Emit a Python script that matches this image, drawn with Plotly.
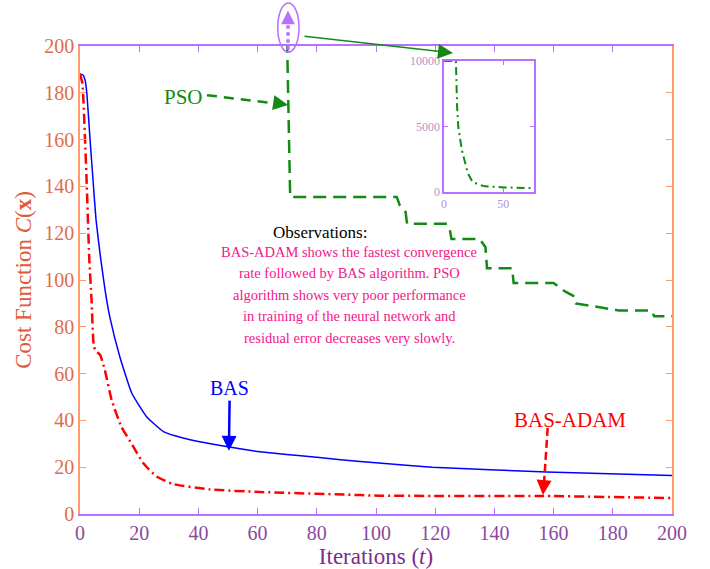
import plotly.graph_objects as go

# ---------------- data ----------------
bas_x = [0, 1, 1.7, 2.3, 3.4, 4.5, 5.4, 7, 8.5, 10.1, 13.5, 17.5, 22.5, 28.2, 34.8, 49.5, 60.8, 80, 94.6, 101, 119, 157.7, 200]
bas_y = [188, 187.6, 185.5, 180, 160, 141, 126, 109, 95.5, 84, 67, 51.6, 41.6, 35.2, 32.5, 28.8, 26.6, 24.2, 22.4, 21.8, 20, 18, 16.4]

adam_x = [0, 0.8, 1.7, 2.3, 3.1, 3.9, 4.7, 5.5, 6.8, 8.4, 10.7, 14, 18, 21.4, 25.9, 31.5, 43.9, 60.8, 94.6, 101, 156.5, 200]
adam_y = [188, 184, 160, 140, 110, 91.5, 71.5, 69.5, 68, 61.5, 48.7, 37.3, 28.8, 21.7, 16, 12.8, 10.5, 9.4, 8.1, 7.8, 7.7, 6.8]

pso_x = [0, 69, 70, 71, 107, 108, 110, 110.5, 124, 125, 125.5, 135, 137, 137.5, 146, 146.5, 160, 164, 167, 167.5, 182, 193, 194, 200]
pso_y = [10000, 10000, 200, 135.5, 135.5, 132, 129, 124, 124, 121, 117.5, 117.5, 114, 105, 105, 98.7, 98.7, 95, 93, 90, 87, 87, 84.5, 84.5]

inset_x = [0, 10, 11, 12, 15, 20, 24, 33, 50, 76]
inset_y = [10000, 10000, 6500, 5000, 3200, 1450, 760, 460, 350, 290]

x_ticks = list(range(0, 201, 20))
y_ticks = list(range(0, 201, 20))
inset_xticks = [0, 50]
inset_yticks = [0, 5000, 10000]
inset_yticktext = ["0", "5000", "10000"]

obs_title = "Observations:"
obs_lines = [
    "BAS-ADAM shows the fastest convergence",
    "rate followed by BAS algorithm. PSO",
    "algorithm shows very poor performance",
    "in training of the neural network and",
    "residual error decreases very slowly.",
]

# ---------------- style ----------------
FONT = "Liberation Serif"
PURPLE_LINE = "#b870ff"
PURPLE_TXT = "#8b4a9f"
PURPLE_TITLE = "#7a2e8c"
ORANGE_LINE = "#ff9a6a"
ORANGE_TXT = "#e06c4f"
ORANGE_TITLE = "#e05a3a"
GREEN = "#138a13"
BLUE = "#0000ff"
RED = "#ff0000"
PINK = "#f4168c"
INSET_TXT = "#b892cc"

fig = go.Figure()

fig.add_trace(go.Scatter(x=pso_x, y=pso_y, mode="lines",
                         line=dict(color=GREEN, width=2.5, dash="13px,7px")))
fig.add_trace(go.Scatter(x=bas_x, y=bas_y, mode="lines",
                         line=dict(color=BLUE, width=1.5, shape="spline", smoothing=0.4)))
fig.add_trace(go.Scatter(x=adam_x, y=adam_y, mode="lines",
                         line=dict(color=RED, width=2.5, dash="10px,4px,2px,4px",
                                   shape="spline", smoothing=0.5)))

# inset
fig.add_trace(go.Scatter(x=inset_x, y=inset_y, mode="lines", xaxis="x2", yaxis="y2",
                         line=dict(color=GREEN, width=2, dash="8px,4px,2px,4px")))

fig.update_layout(
    width=710, height=569,
    margin=dict(l=80, r=38, t=46, b=55, autoexpand=False),
    plot_bgcolor="white", paper_bgcolor="white",
    showlegend=False,
    font=dict(family=FONT),
    xaxis=dict(range=[0, 200], tickvals=x_ticks, ticks="inside", ticklen=6,
               tickcolor=PURPLE_LINE, linecolor=PURPLE_LINE, linewidth=1.5,
               mirror="ticks", showgrid=False, zeroline=False, automargin=False,
               tickfont=dict(size=20, color=PURPLE_TXT, family=FONT),
               title=dict(text="Iterations (<i>t</i>)", standoff=4,
                          font=dict(size=23, color=PURPLE_TITLE, family=FONT))),
    yaxis=dict(range=[0, 200], tickvals=y_ticks, ticks="inside", ticklen=6,
               tickcolor=ORANGE_LINE, linecolor=ORANGE_LINE, linewidth=1.5,
               mirror="ticks", showgrid=False, zeroline=False, automargin=False,
               tickfont=dict(size=20, color=ORANGE_TXT, family=FONT),
               title=dict(text="Cost Function <i>C</i>(<b>x</b>)", standoff=6,
                          font=dict(size=23, color=ORANGE_TITLE, family=FONT))),
    xaxis2=dict(domain=[0.615, 0.767], anchor="y2", range=[0, 76], tickvals=inset_xticks,
                ticks="inside", ticklen=4, tickcolor=PURPLE_LINE, linecolor=PURPLE_LINE,
                linewidth=1.5, mirror="ticks", showgrid=False, zeroline=False,
                tickfont=dict(size=12, color=INSET_TXT, family=FONT)),
    yaxis2=dict(domain=[0.688, 0.968], anchor="x2", range=[0, 10000], tickvals=inset_yticks,
                ticktext=inset_yticktext,
                ticks="inside", ticklen=4, tickcolor=PURPLE_LINE, linecolor=PURPLE_LINE,
                linewidth=1.5, mirror="ticks", showgrid=False, zeroline=False,
                tickfont=dict(size=12, color=INSET_TXT, family=FONT)),
)

shapes = []
# ellipse at top marking PSO going off the chart
shapes.append(dict(type="circle", xref="paper", yref="paper",
                   x0=0.334, x1=0.370, y0=0.987, y1=1.092,
                   line=dict(color=PURPLE_LINE, width=1.5)))
shapes.append(dict(type="line", xref="paper", yref="paper",
                   x0=0.3514, x1=0.3514, y0=0.992, y1=1.055,
                   line=dict(color=PURPLE_LINE, width=3.5, dash="dot")))
# PSO dashed arrow shaft
shapes.append(dict(type="line", xref="x", yref="y", x0=42.9, y0=179, x1=67, y1=175.3,
                   line=dict(color=GREEN, width=2.5, dash="10px,7px")))
# BAS-ADAM dashed arrow shaft
shapes.append(dict(type="line", xref="x", yref="y", x0=158.0, y0=36.8, x1=156.7, y1=12,
                   line=dict(color=RED, width=2.5, dash="8px,4px")))
fig.update_layout(shapes=shapes)

ann = []
# arrowhead for ellipse dotted arrow
ann.append(dict(xref="paper", yref="paper", x=0.3514, y=1.076, ax=0, ay=12, text="",
                showarrow=True, arrowhead=2, arrowsize=1.1, arrowwidth=2.5, arrowcolor=PURPLE_LINE))
# green arrow from ellipse to inset
ann.append(dict(xref="paper", yref="paper", x=0.630, y=0.985, ax=-150, ay=-17, text="",
                showarrow=True, arrowhead=2, arrowsize=2, arrowwidth=1.5, arrowcolor=GREEN))
# PSO label + arrowhead
ann.append(dict(xref="x", yref="y", x=42.3, y=178.2, text="PSO", showarrow=False,
                xanchor="right", font=dict(size=21, color=GREEN, family=FONT)))
ann.append(dict(xref="x", yref="y", x=70.3, y=174.8, ax=-13, ay=-2, text="",
                showarrow=True, arrowhead=2, arrowsize=1.2, arrowwidth=2.5, arrowcolor=GREEN))
# BAS label + arrow
ann.append(dict(xref="x", yref="y", x=50.3, y=27, axref="x", ayref="y", ax=50.6, ay=53.8,
                text="BAS", showarrow=True, arrowhead=2, arrowsize=1.2, arrowwidth=2.5,
                arrowcolor=BLUE, font=dict(size=20, color=BLUE, family=FONT)))
# BAS-ADAM label + arrowhead
ann.append(dict(xref="x", yref="y", x=165.5, y=40.2, text="BAS-ADAM", showarrow=False,
                font=dict(size=21, color=RED, family=FONT)))
ann.append(dict(xref="x", yref="y", x=156.4, y=8.1, ax=1, ay=-13, text="",
                showarrow=True, arrowhead=2, arrowsize=1.2, arrowwidth=2.5, arrowcolor=RED))
# observations
ann.append(dict(xref="x", yref="y", x=81, y=120.5, text=obs_title, showarrow=False,
                font=dict(size=17, color="black", family=FONT)))
obs_y = [112, 103, 93.6, 84.6, 75.2]
for t, yy in zip(obs_lines, obs_y):
    ann.append(dict(xref="x", yref="y", x=90.9, y=yy, text=t, showarrow=False,
                    font=dict(size=14.5, color=PINK, family=FONT)))
fig.update_layout(annotations=ann)

fig.write_html("out.html")
